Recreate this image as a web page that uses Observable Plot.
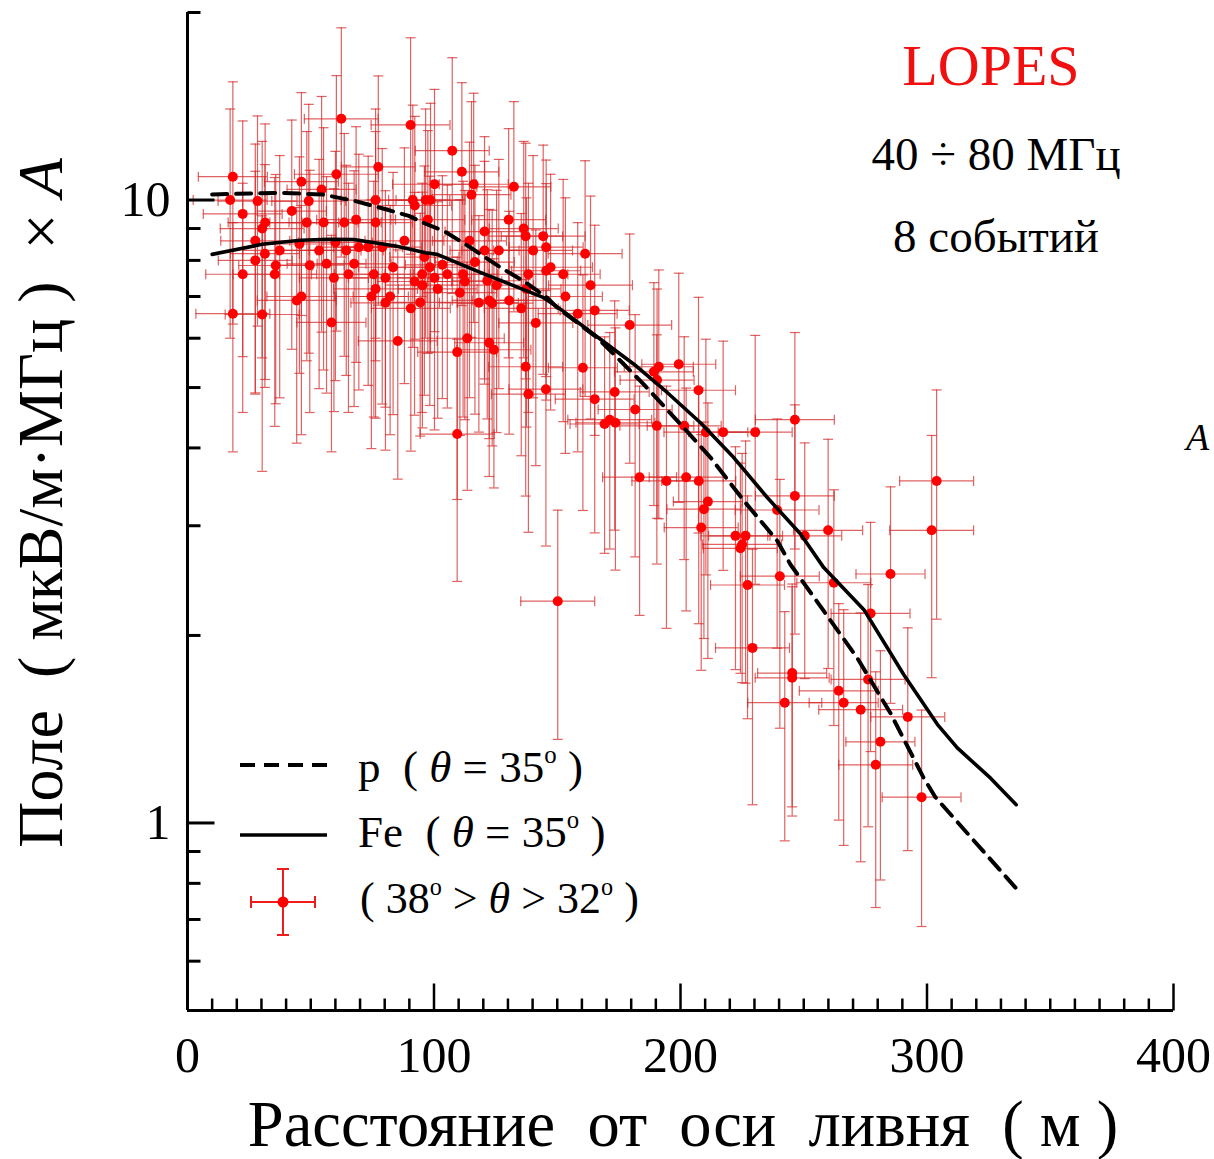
<!DOCTYPE html>
<html><head><meta charset="utf-8">
<script src="https://cdn.jsdelivr.net/npm/d3@7"></script>
<script src="https://cdn.jsdelivr.net/npm/@observablehq/plot@0.6"></script>
<style>
body{margin:0;background:#fff;}
#wrap{position:relative;width:1214px;height:1159px;overflow:hidden;font-family:"Liberation Serif","Times New Roman","DejaVu Serif",serif;background:#fff;}
#wrap svg{position:absolute;left:0;top:0;}
.t{position:absolute;white-space:pre;line-height:1;color:#000;}
.c{transform:translateX(-50%);}
sup{font-size:0.55em;vertical-align:0;position:relative;top:-0.75em;}
</style></head><body><div id="wrap"></div>
<script>
// ---- measured data (distance, m ; field, µV/m/MHz × A) ----
const dist = [
62.4,90.5,18.4,77.4,60.4,46.2,54.4,17.3,28.4,49.2,
76.3,91.4,92.2,22.4,42.3,31.5,30.3,48.4,55.2,63.6,
68.4,76.3,27.5,45.4,60.0,88.0,31.4,37.4,53.4,64.4,
69.5,73.3,79.0,27.5,35.8,49.6,56.4,67.6,22.4,35.4,
59.4,65.3,75.6,80.3,83.4,95.2,92.1,44.3,46.2,74.6,
76.3,82.2,80.3,94.4,90.6,18.4,30.3,58.4,85.3,107.4,
111.3,100.2,116.1,132.4,115.2,96.6,98.6,97.5,130.3,120.5,
136.4,137.2,144.3,114.4,120.5,126.3,140.2,145.5,161.3,96.1,
116.6,103.4,98.3,147.3,145.5,152.4,138.3,105.4,111.8,112.5,
100.2,101.5,121.6,125.4,163.5,110.5,137.5,153.3,118.2,122.4,
123.6,130.5,135.4,158.3,165.2,141.3,179.4,113.5,122.4,124.3,
109.4,137.2,160.4,138.3,145.4,165.2,173.3,181.6,171.3,95.3,
199.3,191.2,189.2,190.5,207.3,169.2,173.6,190.4,201.5,210.3,
217.3,230.3,246.4,183.4,194.3,202.3,207.4,246.4,211.1,209.5,
239.2,208.4,222.3,226.4,225.0,224.3,250.4,259.9,240.3,227.2,
303.9,301.9,285.2,262.2,277.1,229.2,245.3,245.3,276.1,264.2,
266.2,242.3,273.1,292.2,281.1,279.2,297.8,109.4,150.2];
const field = [
13.5,13.2,10.9,11.3,11.0,10.7,10.4,10.0,9.96,9.96,
10.0,10.0,9.8,9.5,9.6,9.2,9.0,9.2,9.2,9.2,
9.3,9.2,8.6,8.5,8.55,8.6,8.2,8.3,8.3,8.3,
8.4,8.4,8.4,8.0,7.85,7.86,7.9,7.9,7.6,7.6,
7.5,7.6,7.6,7.5,7.8,7.6,7.4,6.9,7.0,7.0,
7.2,7.0,6.84,6.85,6.7,6.57,6.55,6.36,5.94,12.0,
11.1,10.6,10.6,10.5,10.2,10.0,10.0,9.3,9.3,8.9,
9.0,8.75,8.75,8.6,8.3,8.3,8.3,8.4,8.2,8.1,
7.95,7.87,7.8,7.8,7.7,7.6,7.6,7.6,7.6,7.4,
7.5,7.2,7.42,7.3,7.3,7.1,7.2,7.0,6.84,6.9,
6.83,6.9,6.7,6.57,6.65,6.35,6.3,6.0,5.9,5.75,
5.7,5.4,5.38,4.88,4.97,4.79,4.92,4.61,4.44,7.3,
5.45,5.4,5.3,5.14,4.95,4.37,4.39,4.34,4.34,4.24,
4.24,4.24,4.44,3.59,3.54,3.59,3.54,3.35,3.28,3.19,
3.18,2.98,2.89,2.89,2.80,2.76,2.89,2.95,2.49,2.41,
3.54,2.95,2.51,2.43,2.17,1.91,1.74,1.71,1.70,1.63,
1.56,1.56,1.52,1.48,1.35,1.24,1.10,4.21,2.27];
// horizontal half-errors (m)
const distErr = [
15,16,14,15,17,15,14,15,16,15,
14,15,15,16,14,15,17,15,14,15,
16,15,14,15,15,16,14,15,17,15,
15,14,16,15,15,14,16,15,15,17,
14,15,16,15,14,15,15,16,14,15,
17,15,14,15,16,15,15,14,16,15,
15,17,14,15,16,15,14,15,15,16,
14,15,17,15,14,15,16,15,15,14,
16,15,15,17,14,15,16,15,14,15,
15,16,14,15,17,15,14,15,16,15,
14,15,15,16,14,15,17,15,14,15,
16,15,14,15,15,16,14,15,17,15,
15,14,16,15,15,14,16,15,15,17,
14,15,16,15,14,15,15,16,14,15,
17,15,14,15,16,15,15,14,16,15,
15,17,14,15,16,15,14,15,15,16,
14,15,17,15,14,15,16,15,15];
// vertical relative half-errors
const fieldErr = [
0.40,0.38,0.42,0.40,0.44,0.39,0.41,0.40,0.37,0.43,
0.40,0.42,0.39,0.41,0.40,0.44,0.38,0.40,0.42,0.39,
0.41,0.40,0.43,0.38,0.40,0.41,0.39,0.42,0.40,0.37,
0.41,0.40,0.44,0.39,0.40,0.42,0.38,0.41,0.40,0.43,
0.39,0.40,0.41,0.38,0.42,0.40,0.39,0.41,0.40,0.43,
0.38,0.40,0.42,0.39,0.41,0.40,0.44,0.38,0.40,0.41,
0.39,0.42,0.40,0.37,0.41,0.40,0.43,0.39,0.40,0.42,
0.38,0.41,0.40,0.44,0.39,0.40,0.42,0.38,0.41,0.40,
0.43,0.39,0.40,0.41,0.38,0.42,0.40,0.39,0.41,0.40,
0.43,0.38,0.40,0.42,0.39,0.41,0.40,0.44,0.38,0.40,
0.41,0.39,0.42,0.40,0.37,0.41,0.40,0.43,0.39,0.40,
0.42,0.38,0.41,0.40,0.44,0.39,0.40,0.42,0.38,0.41,
0.40,0.43,0.39,0.40,0.41,0.38,0.42,0.40,0.39,0.41,
0.40,0.43,0.38,0.40,0.42,0.39,0.41,0.40,0.44,0.38,
0.40,0.41,0.39,0.42,0.40,0.37,0.41,0.40,0.43,0.39,
0.40,0.42,0.38,0.41,0.40,0.44,0.39,0.40,0.42,0.38,
0.41,0.40,0.43,0.39,0.40,0.41,0.38,0.42,0.40];
// model curves
const pDist  = [10.0,37.0,54.6,68.1,78.9,89.8,96.6,104.0,114.8,127.0,136.4,145.9,150.0,166.2,177.0,185.1,201.3,212.2,225.7,239.2,244.6,258.1,271.7,285.2,298.7,303.4,336.2];
const pField = [10.21,10.27,10.21,9.96,9.70,9.43,9.16,8.92,8.39,7.79,7.41,6.97,6.72,6.01,5.45,5.06,4.31,3.86,3.29,2.84,2.60,2.19,1.84,1.50,1.18,1.10,0.785];
const feDist  = [10.0,30.3,45.8,57.3,67.5,84.4,96.6,101.3,117.5,131.0,144.5,151.3,164.8,181.1,194.6,208.1,221.6,235.2,248.7,258.1,274.4,290.6,304.2,312.3,325.8,336.2];
const feField = [8.18,8.49,8.62,8.65,8.64,8.44,8.23,8.18,7.69,7.32,6.97,6.68,6.09,5.45,4.91,4.39,3.86,3.33,2.91,2.57,2.20,1.73,1.44,1.32,1.18,1.07];
// ticks
const xTickLabels = [0,100,200,300,400];
const xMajorTicks = [100,200,300,400];
const yTickLabels = [1,10];
const yMinorTicks = [0.6,0.7,0.8,0.9,2,3,4,5,6,7,8,9,20];

const pts = dist.map((d,i)=>({x:d, y:field[i], dx:distErr[i], e:fieldErr[i]}));
const pCurve = pDist.map((d,i)=>({x:d, y:pField[i]}));
const feCurve = feDist.map((d,i)=>({x:d, y:feField[i]}));
const xMinorTicks = d3.range(10,400,10).filter(v=>v%100!==0);

const rOf = s => Math.sqrt(s/Math.PI);
const hCap = {draw(c,s){const r=rOf(s); c.moveTo(-r,0); c.lineTo(r,0);}};
const vCap = {draw(c,s){const r=rOf(s); c.moveTo(0,-r); c.lineTo(0,r);}};
const tickRight = {draw(c,s){const r=rOf(s); c.moveTo(0,0); c.lineTo(r,0);}};
const tickUp = {draw(c,s){const r=rOf(s); c.moveTo(0,0); c.lineTo(0,-r);}};

const barColor = "#d42626", barOp = 0.72, barW = 1.2;
const serif = "'Liberation Serif','Times New Roman','DejaVu Serif',serif";

const chart = Plot.plot({
  width: 1214, height: 1159,
  marginLeft: 187, marginRight: 41, marginTop: 12, marginBottom: 149,
  x: {domain: [0,400], axis: null},
  y: {type: "log", domain: [0.5,20], axis: null},
  style: {fontFamily: serif, background: "transparent", overflow: "visible"},
  marks: [
    Plot.ruleX(pts, {x:"x", y1:d=>d.y*(1-d.e), y2:d=>d.y*(1+d.e), stroke:barColor, strokeOpacity:barOp, strokeWidth:barW}),
    Plot.ruleY(pts, {y:"y", x1:d=>d.x-d.dx, x2:d=>d.x+d.dx, stroke:barColor, strokeOpacity:barOp, strokeWidth:barW}),
    Plot.dot(pts, {x:"x", y:d=>d.y*(1-d.e), symbol:hCap, r:5, fill:"none", stroke:barColor, strokeOpacity:barOp, strokeWidth:barW}),
    Plot.dot(pts, {x:"x", y:d=>d.y*(1+d.e), symbol:hCap, r:5, fill:"none", stroke:barColor, strokeOpacity:barOp, strokeWidth:barW}),
    Plot.dot(pts, {x:d=>d.x-d.dx, y:"y", symbol:vCap, r:5, fill:"none", stroke:barColor, strokeOpacity:barOp, strokeWidth:barW}),
    Plot.dot(pts, {x:d=>d.x+d.dx, y:"y", symbol:vCap, r:5, fill:"none", stroke:barColor, strokeOpacity:barOp, strokeWidth:barW}),
    Plot.dot(pts, {x:"x", y:"y", r:5, fill:"#ff0000", stroke:"none"}),
    Plot.line(pCurve, {x:"x", y:"y", stroke:"#000", strokeWidth:4, strokeDasharray:"15,9"}),
    Plot.line(feCurve, {x:"x", y:"y", stroke:"#000", strokeWidth:3.6}),
    // axes
    Plot.ruleX([0], {stroke:"#000", strokeWidth:3}),
    Plot.ruleY([0.5], {stroke:"#000", strokeWidth:3}),
    Plot.dot(yMinorTicks, {x:()=>0, y:d=>d, symbol:tickRight, r:13, fill:"none", stroke:"#000", strokeWidth:3}),
    Plot.dot(yTickLabels, {x:()=>0, y:d=>d, symbol:tickRight, r:27, fill:"none", stroke:"#000", strokeWidth:3}),
    Plot.dot(xMinorTicks, {x:d=>d, y:()=>0.5, symbol:tickUp, r:12, fill:"none", stroke:"#000", strokeWidth:2.5}),
    Plot.dot(xMajorTicks, {x:d=>d, y:()=>0.5, symbol:tickUp, r:27, fill:"none", stroke:"#000", strokeWidth:2.5}),
    Plot.text(xTickLabels, {x:d=>d, y:()=>0.5, dy:45, text:d=>String(d), fontSize:50, fill:"#000"}),
    Plot.text(yTickLabels, {x:()=>0, y:d=>d, dx:-17, textAnchor:"end", text:d=>String(d), fontSize:50, fill:"#000"})
  ]
});
const wrap = document.getElementById("wrap");
wrap.appendChild(chart);

// legend samples (overlay)
const ns = "http://www.w3.org/2000/svg";
const lg = document.createElementNS(ns, "svg");
lg.setAttribute("width", 1214); lg.setAttribute("height", 1159);
lg.innerHTML = `
<line x1="240" y1="765" x2="327" y2="765" stroke="#000" stroke-width="4" stroke-dasharray="15,9"/>
<line x1="240" y1="835" x2="327" y2="835" stroke="#000" stroke-width="3.6"/>
<g stroke="#ee1c1c" stroke-width="2">
<line x1="251" y1="902" x2="315" y2="902"/><line x1="283" y1="869" x2="283" y2="935"/>
<line x1="251" y1="896" x2="251" y2="908"/><line x1="315" y1="896" x2="315" y2="908"/>
<line x1="277" y1="869" x2="289" y2="869"/><line x1="277" y1="935" x2="289" y2="935"/>
</g><circle cx="283" cy="902" r="5.5" fill="#ff0000"/>`;
wrap.appendChild(lg);

function addText(html, style, cls){
  const d = document.createElement("div");
  d.className = "t" + (cls ? " " + cls : "");
  d.innerHTML = html;
  Object.assign(d.style, style);
  wrap.appendChild(d);
  return d;
}
addText("LOPES", {left:"991px", top:"37px", fontSize:"58px", color:"#f01010"}, "c");
addText("40 ÷ 80 МГц", {left:"996px", top:"131px", fontSize:"47px"}, "c");
addText("8 событий", {left:"996px", top:"213px", fontSize:"47px"}, "c");
addText("p&nbsp; ( <i>θ</i> = 35<sup>o</sup> )", {left:"358px", top:"745px", fontSize:"45px"});
addText("Fe&nbsp; ( <i>θ</i> = 35<sup>o</sup> )", {left:"358px", top:"810px", fontSize:"45px"});
addText("( 38<sup>o</sup> &gt; <i>θ</i> &gt; 32<sup>o</sup> )", {left:"360px", top:"877px", fontSize:"44px"});
addText("Расстояние  от  оси  ливня  ( м )", {left:"683px", top:"1093px", fontSize:"64.5px"}, "c");
addText("Поле  ( мкВ/м·МГц )  × <i>A</i>", {left:"41px", top:"503px", fontSize:"64px", transform:"translate(-50%,-50%) rotate(-90deg)"});
addText("<i>A</i>", {left:"1186px", top:"418px", fontSize:"38px"});
</script></body></html>
